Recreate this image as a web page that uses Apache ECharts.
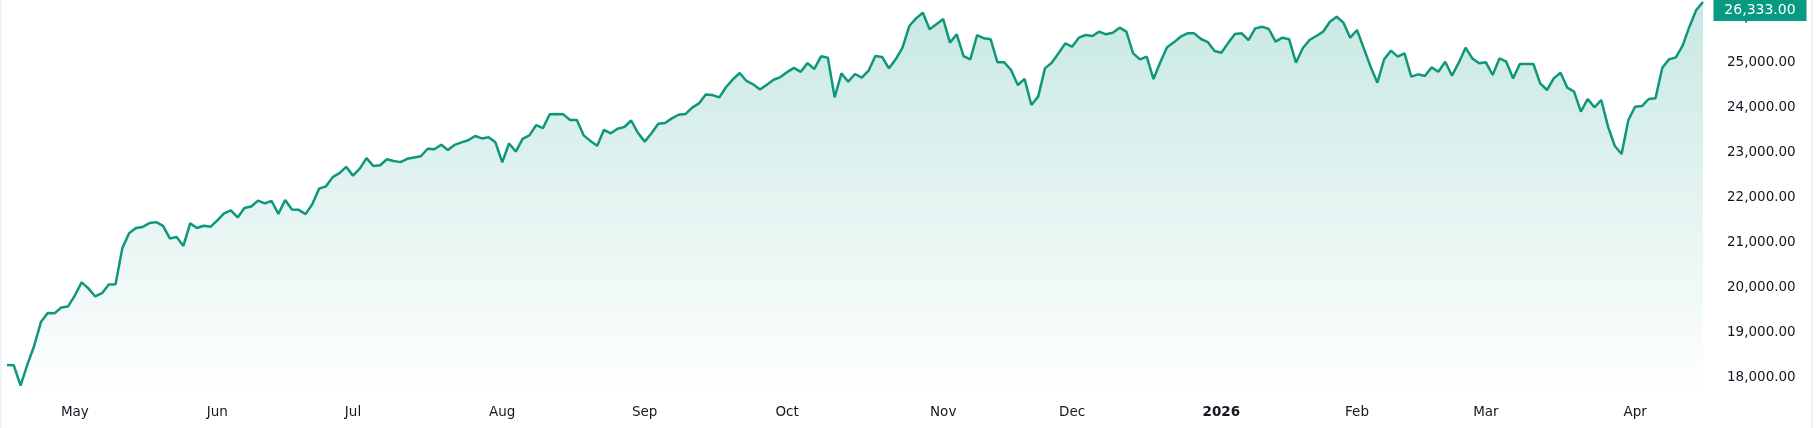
<!DOCTYPE html>
<html>
<head>
<meta charset="utf-8">
<script src="https://cdn.jsdelivr.net/npm/echarts@6/dist/echarts.min.js"></script>
<style>
  html, body { margin: 0; padding: 0; background: #fff; }
  #main { width: 1816px; height: 428px; }
</style>
</head>
<body>
<div id="main"></div>
<script>
// trading days: weekdays from startDay to endDay, minus exchange holidays
var startDay = '2025-04-16';
var endDay = '2026-04-16';
var holidays = ['2025-04-18', '2025-05-26', '2025-06-19', '2025-07-04', '2025-09-01',
  '2025-11-27', '2025-12-25', '2026-01-01', '2026-01-19', '2026-02-16', '2026-04-03'];

var monthNames = ['Jan', 'Feb', 'Mar', 'Apr', 'May', 'Jun', 'Jul', 'Aug', 'Sep', 'Oct', 'Nov', 'Dec'];

// daily closes
var closes = [
  18267, 18260, 17808, 18276, 18690, 19220, 19420, 19415, 19545, 19568,
  19810, 20103, 19970, 19790, 19862, 20055, 20060, 20864, 21195, 21312,
  21335, 21420, 21442, 21360, 21080, 21112, 20912, 21414, 21312, 21360,
  21337, 21480, 21638, 21705, 21545, 21755, 21788, 21920, 21858, 21912,
  21626, 21935, 21722, 21715, 21620, 21840, 22185, 22235, 22442, 22530,
  22670, 22475, 22630, 22865, 22688, 22705, 22840, 22800, 22775, 22850,
  22880, 22905, 23072, 23062, 23160, 23045, 23160, 23213, 23262, 23356,
  23302, 23330, 23216, 22770, 23190, 23010, 23290, 23370, 23597, 23530,
  23838, 23846, 23837, 23712, 23710, 23370, 23247, 23138, 23494, 23415,
  23518, 23556, 23700, 23426, 23231, 23415, 23628, 23645, 23748, 23828,
  23843, 23985, 24080, 24279, 24265, 24213, 24445, 24613, 24755, 24579,
  24503, 24388, 24496, 24605, 24666, 24775, 24870, 24782, 24975, 24846,
  25126, 25094, 24214, 24748, 24563, 24733, 24652, 24807, 25133, 25111,
  24859, 25059, 25319, 25800, 25970, 26096, 25726, 25837, 25956, 25430,
  25615, 25133, 25059, 25600, 25526, 25504, 24993, 24993, 24822, 24489,
  24622, 24044, 24230, 24859, 24985, 25193, 25415, 25341, 25541, 25600,
  25578, 25674, 25615, 25652, 25763, 25674, 25193, 25059, 25119, 24622,
  24993, 25326, 25437, 25563, 25637, 25637, 25511, 25444, 25244, 25207,
  25420, 25622, 25637, 25489, 25748, 25785, 25733, 25452, 25541, 25504,
  24985, 25304, 25489, 25578, 25674, 25896, 26007, 25874, 25541, 25711,
  25304, 24896, 24541, 25059, 25252, 25119, 25193, 24674, 24726, 24689,
  24881, 24785, 25007, 24696, 24985, 25319, 25080, 24970, 24993, 24711,
  25081, 25007, 24637, 24956, 24956, 24956, 24526, 24378, 24637, 24763,
  24430, 24341, 23896, 24178, 23993, 24156, 23563, 23133, 22956, 23711,
  24007, 24022, 24178, 24193, 24874, 25059, 25104, 25363, 25785, 26156,
  26333
];

var yTicks = [18000, 19000, 20000, 21000, 22000, 23000, 24000, 25000, 26000];
var lastPrice = '26,333.00';

var days = [];
(function () {
  var d = new Date(startDay + 'T00:00:00Z');
  var end = new Date(endDay + 'T00:00:00Z');
  while (d <= end) {
    var s = d.toISOString().slice(0, 10);
    var wd = d.getUTCDay();
    if (wd != 0 && wd != 6 && holidays.indexOf(s) < 0) days.push(s);
    d.setUTCDate(d.getUTCDate() + 1);
  }
})();

function isMonthStart(i) {
  if (i == 0) return false;
  return days[i].slice(5, 7) != days[i - 1].slice(5, 7);
}

function fmt(v) {
  return v.toLocaleString('en-US', { minimumFractionDigits: 2, maximumFractionDigits: 2 });
}

var green = '#0f977b';
var myChart = echarts.init(document.getElementById('main'));

myChart.setOption({
  animation: false,
  backgroundColor: '#ffffff',
  textStyle: { fontFamily: 'DejaVu Sans' },
  grid: { left: 7, right: 113, top: 0, bottom: 33, containLabel: false, outerBoundsMode: 'none' },
  xAxis: {
    type: 'category',
    data: days,
    boundaryGap: false,
    axisLine: { show: false },
    axisTick: { show: false },
    splitLine: { show: false },
    axisLabel: {
      interval: function (i) { return isMonthStart(i); },
      margin: 10,
      fontSize: 13.5,
      color: '#131722',
      formatter: function (v) {
        var m = parseInt(v.slice(5, 7), 10) - 1;
        if (m == 0) return '{b|' + v.slice(0, 4) + '}';
        return monthNames[m];
      },
      rich: { b: { fontWeight: 'bold', fontSize: 13.5, color: '#131722' } }
    }
  },
  yAxis: {
    type: 'value',
    position: 'right',
    min: 17600,
    max: 26378,
    splitLine: { show: false },
    axisLine: { show: false },
    axisTick: { show: false },
    axisLabel: {
      customValues: yTicks,
      margin: 24,
      fontSize: 13.5,
      color: '#131722',
      formatter: function (v) { return fmt(v); }
    }
  },
  series: [{
    type: 'line',
    data: closes,
    showSymbol: false,
    symbol: 'none',
    lineStyle: { color: green, width: 2.5 },
    areaStyle: {
      color: new echarts.graphic.LinearGradient(0, 0, 0, 1, [
        { offset: 0, color: 'rgba(8,153,129,0.32)' },
        { offset: 1, color: 'rgba(8,153,129,0.0)' }
      ])
    },
    markPoint: {
      silent: true,
      symbol: 'rect',
      symbolSize: [93, 22],
      symbolOffset: [57, 8],
      itemStyle: { color: '#089981' },
      label: {
        show: true,
        position: 'inside',
        color: '#ffffff',
        fontSize: 14,
        formatter: lastPrice
      },
      data: [{ coord: [closes.length - 1, closes[closes.length - 1]] }]
    }
  }],
  graphic: [
    { type: 'rect', shape: { x: 0, y: 0, width: 2, height: 428 }, style: { fill: '#f0f3fa' } },
    { type: 'rect', shape: { x: 1811, y: 0, width: 2, height: 428 }, style: { fill: '#f0f3fa' } }
  ]
});
</script>
</body>
</html>
